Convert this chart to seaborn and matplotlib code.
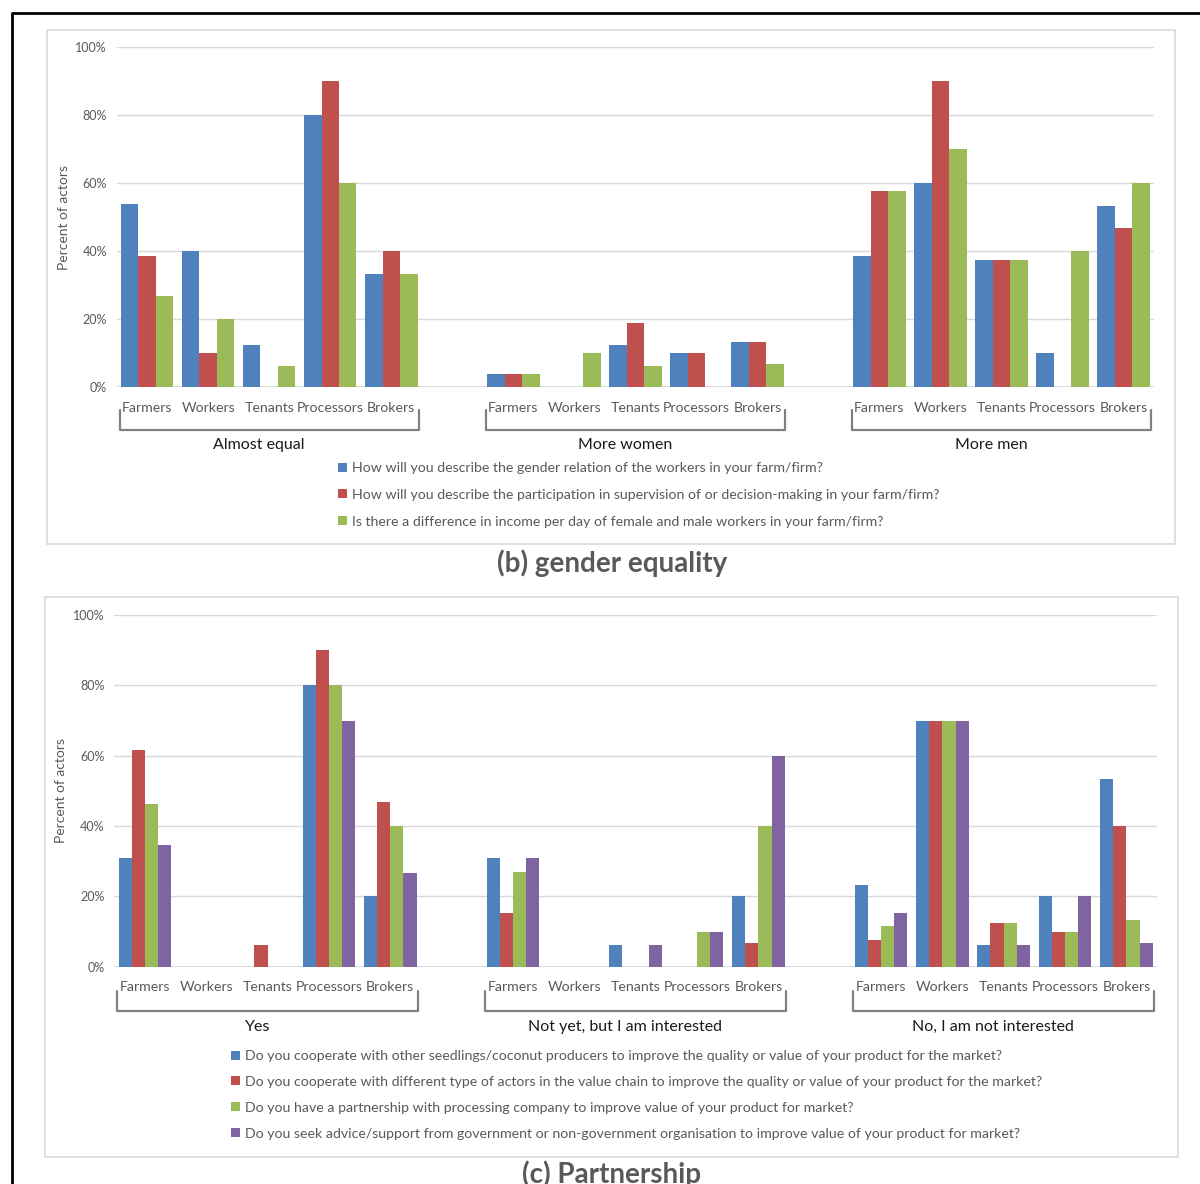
import numpy as np
import pandas as pd
import matplotlib
matplotlib.use("Agg")
import matplotlib.pyplot as plt
from matplotlib.patches import Rectangle, Patch
from matplotlib.lines import Line2D
from matplotlib.transforms import blended_transform_factory
import seaborn as sns

# ---------------- data ----------------
actors = ["Farmers", "Workers", "Tenants", "Processors", "Brokers"]

gender_groups = ["Almost equal", "More women", "More men"]
gender_questions = [
    "How will you describe the gender relation of the workers in your farm/firm?",
    "How will you describe the participation in supervision of or decision-making in your farm/firm?",
    "Is there a difference in income per day of female and male workers in your farm/firm?",
]
# values per series, group-major (5 actors per group)
gender_relation = [53.8, 40.0, 12.5, 80.0, 33.3,  3.8, 0.0, 12.5, 10.0, 13.3,  38.5, 60.0, 37.5, 10.0, 53.3]
gender_decision = [38.5, 10.0, 0.0, 90.0, 40.0,   3.8, 0.0, 18.8, 10.0, 13.3,  57.7, 90.0, 37.5, 0.0, 46.7]
gender_income   = [26.9, 20.0, 6.3, 60.0, 33.3,   3.8, 10.0, 6.3, 0.0, 6.7,    57.7, 70.0, 37.5, 40.0, 60.0]

partner_groups = ["Yes", "Not yet, but I am interested", "No, I am not interested"]
partner_questions = [
    "Do you cooperate with other seedlings/coconut producers to improve the quality or value of your product for the market?",
    "Do you cooperate with different type of actors in the value chain to improve the quality or value of your product for the market?",
    "Do you have a partnership with processing company to improve value of your product for market?",
    "Do you seek advice/support from government or non-government organisation to improve value of your product for market?",
]
coop_producers     = [30.8, 0.0, 0.0, 80.0, 20.0,  30.8, 0.0, 6.3, 0.0, 20.0,  23.1, 70.0, 6.3, 20.0, 53.3]
coop_chain         = [61.5, 0.0, 6.3, 90.0, 46.7,  15.4, 0.0, 0.0, 0.0, 6.7,   7.7, 70.0, 12.5, 10.0, 40.0]
partner_processing = [46.2, 0.0, 0.0, 80.0, 40.0,  26.9, 0.0, 0.0, 10.0, 40.0, 11.5, 70.0, 12.5, 10.0, 13.3]
seek_advice        = [34.6, 0.0, 0.0, 70.0, 26.7,  30.8, 0.0, 6.3, 10.0, 60.0, 15.4, 70.0, 6.3, 20.0, 6.7]

y_ticks = [0, 20, 40, 60, 80, 100]
colors = ["#4F81BD", "#C0504D", "#9BBB59", "#8064A2"]

# ---------------- style ----------------
sns.set_theme(style="white")
plt.rcParams["font.family"] = ["Lato", "DejaVu Sans"]
GRAY_TXT = "#595959"
GRID = "#D9D9D9"

W, H = 1200, 1184
fig = plt.figure(figsize=(W / 100, H / 100), dpi=100)


def fx(px):
    return px / W


def fy(py):
    return 1 - py / H


def draw_panel(ax, groups, questions, series, leg_xy, leg_spacing):
    slot_keys, slot_labels = [], []
    for gi, g in enumerate(groups):
        for a in actors:
            slot_keys.append(f"{g}|{a}")
            slot_labels.append(a)
        if gi < len(groups) - 1:
            slot_keys.append(f"gap{gi}")
            slot_labels.append("")
    rows = []
    for q, vals in zip(questions, series):
        k = 0
        for g in groups:
            for a in actors:
                rows.append({"slot": f"{g}|{a}", "series": q, "value": vals[k]})
                k += 1
    df = pd.DataFrame(rows)
    n = len(questions)
    sns.barplot(data=df, x="slot", y="value", hue="series", order=slot_keys,
                hue_order=questions, palette=colors[:n], width=0.86,
                saturation=1, errorbar=None, linewidth=0, legend=False, ax=ax)
    ax.set_xlim(-0.5, len(slot_keys) - 0.5)
    ax.set_ylim(0, 100)
    ax.set_yticks(y_ticks)
    ax.set_yticklabels([f"{t}%" for t in y_ticks], color=GRAY_TXT, fontsize=9)
    ax.set_xticks(range(len(slot_keys)))
    ax.set_xticklabels(slot_labels, color=GRAY_TXT, fontsize=10.2)
    ax.tick_params(axis="both", length=0)
    ax.tick_params(axis="x", pad=10.5)
    ax.tick_params(axis="y", pad=7)
    for s in ax.spines.values():
        s.set_visible(False)
    ax.yaxis.grid(True, color=GRID, lw=1)
    ax.set_axisbelow(True)
    ax.axhline(0, color=GRID, lw=1.2, zorder=0.5)
    ax.set_xlabel("")
    ax.set_ylabel("Percent of actors", color=GRAY_TXT, fontsize=10, labelpad=4)

    trans = blended_transform_factory(ax.transData, ax.transAxes)
    for gi, g in enumerate(groups):
        x0 = gi * 6 - 0.45
        x1 = gi * 6 + 4.45
        ax.add_line(Line2D([x0, x0, x1, x1], [-0.068, -0.125, -0.125, -0.068],
                           transform=trans, color="#808080", lw=1.6,
                           solid_joinstyle="round", clip_on=False))
        ax.text((x0 + x1) / 2 - 0.17, -0.172, g, transform=trans, ha="center",
                va="center", fontsize=11.5, color="#1a1a1a")

    handles = [Patch(facecolor=colors[i], edgecolor="none") for i in range(n)]
    fig.legend(handles, questions, loc="upper left",
               bbox_to_anchor=leg_xy, bbox_transform=fig.transFigure,
               frameon=False, fontsize=10.2, labelcolor=GRAY_TXT,
               handlelength=0.6, handleheight=0.6, handletextpad=0.4,
               labelspacing=leg_spacing, borderpad=0, borderaxespad=0)


# panel frames
fig.patches.append(Rectangle((fx(47), fy(544)), fx(1175 - 47), (544 - 30) / H,
                             transform=fig.transFigure, facecolor="white",
                             edgecolor=GRID, lw=1.2, zorder=-10))
fig.patches.append(Rectangle((fx(45), fy(1157)), fx(1178 - 45), (1157 - 597) / H,
                             transform=fig.transFigure, facecolor="white",
                             edgecolor=GRID, lw=1.2, zorder=-10))
# outer black frame
fig.add_artist(Line2D([fx(12), fx(12), 1.0], [0.0, fy(13), fy(13)],
                      transform=fig.transFigure, color="black", lw=2))

ax1 = fig.add_axes([fx(116.7), fy(387), fx(1154 - 116.7), (387 - 47) / H])
draw_panel(ax1, gender_groups, gender_questions,
           [gender_relation, gender_decision, gender_income],
           (fx(338), fy(462)), 1.05)
ax1.patch.set_alpha(0)

ax2 = fig.add_axes([fx(114.3), fy(966.7), fx(1157 - 114.3), (966.7 - 615) / H])
draw_panel(ax2, partner_groups, partner_questions,
           [coop_producers, coop_chain, partner_processing, seek_advice],
           (fx(231), fy(1050)), 0.98)
ax2.patch.set_alpha(0)

fig.text(fx(612), fy(563), "(b) gender equality", ha="center", va="center",
         fontsize=20, fontweight="bold", color=GRAY_TXT)
fig.text(fx(612), fy(1174), "(c) Partnership", ha="center", va="center",
         fontsize=20, fontweight="bold", color=GRAY_TXT)

fig.savefig("out.png", dpi=100)
